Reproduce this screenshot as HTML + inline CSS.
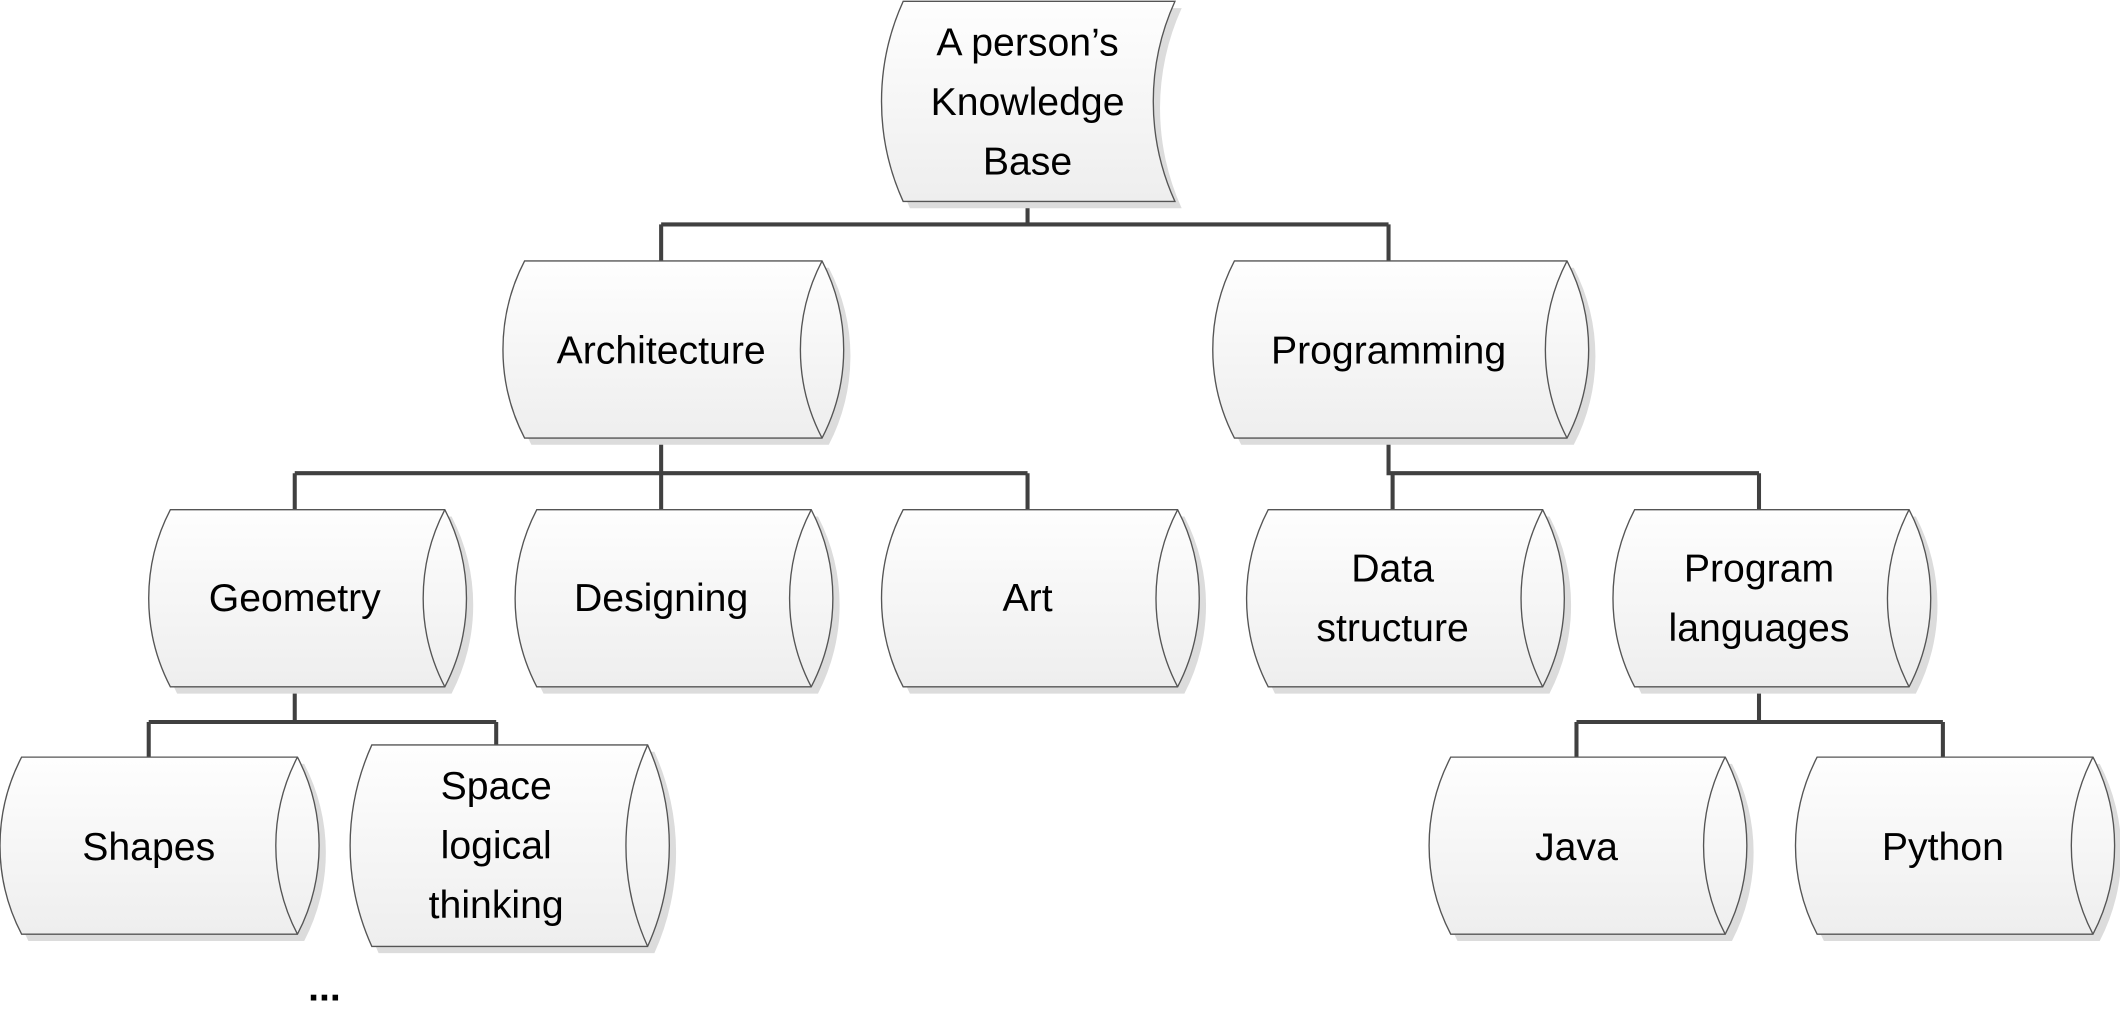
<!DOCTYPE html>
<html><head><meta charset="utf-8"><style>
html,body{margin:0;padding:0;background:#fff;}
svg{display:block;}
text{font-family:"Liberation Sans",sans-serif;font-size:29px;fill:#000;text-anchor:middle;}
</style></head><body>
<svg width="2120" height="1014" viewBox="0 0 1568 750" preserveAspectRatio="none" xmlns="http://www.w3.org/2000/svg">
<defs>
<linearGradient id="g" x1="0" y1="0" x2="0" y2="1"><stop offset="0" stop-color="#fefefe"/><stop offset="1" stop-color="#eeeeee"/></linearGradient>
</defs>
<g fill="none" stroke="#404040" stroke-width="3">
<path d="M760,150V166M489,166H1027M489,166V193M1027,166V193"/>
<path d="M489,324V350M218,350H760M218,350V377M489,350V377M760,350V377"/>
<path d="M1027,324V350H1301M1030,350V377M1301,350V377"/>
<path d="M218,508V534M110,534H367M110,534V560M367,534V551"/>
<path d="M1301,508V534M1166,534H1437M1166,534V560M1437,534V560"/>
</g>
<!-- root -->
<path d="M673,6 L874,6 A179,179 0 0 0 874,154 L673,154 A179,179 0 0 1 673,6Z" fill="#dcdcdc"/>
<path d="M668,1 L869,1 A179,179 0 0 0 869,149 L668,149 A179,179 0 0 1 668,1Z" fill="url(#g)" stroke="#555" stroke-width="1"/>
<text x="760" y="41">A person’s</text>
<text x="760" y="85">Knowledge</text>
<text x="760" y="129">Base</text>
<g stroke="#555" stroke-width="1">
<!-- Architecture -->
<path d="M393,198H613A142,142 0 0 1 613,329H393A142,142 0 0 1 393,198Z" fill="#dcdcdc" stroke="none"/>
<path d="M388,193H608A142,142 0 0 1 608,324H388A142,142 0 0 1 388,193Z" fill="url(#g)"/>
<path d="M608,193A142,142 0 0 0 608,324" fill="none"/>
<!-- Programming -->
<path d="M918,198H1164A142,142 0 0 1 1164,329H918A142,142 0 0 1 918,198Z" fill="#dcdcdc" stroke="none"/>
<path d="M913,193H1159A142,142 0 0 1 1159,324H913A142,142 0 0 1 913,193Z" fill="url(#g)"/>
<path d="M1159,193A142,142 0 0 0 1159,324" fill="none"/>
<!-- Geometry -->
<path d="M131,382H334A142,142 0 0 1 334,513H131A142,142 0 0 1 131,382Z" fill="#dcdcdc" stroke="none"/>
<path d="M126,377H329A142,142 0 0 1 329,508H126A142,142 0 0 1 126,377Z" fill="url(#g)"/>
<path d="M329,377A142,142 0 0 0 329,508" fill="none"/>
<!-- Designing -->
<path d="M402,382H605A142,142 0 0 1 605,513H402A142,142 0 0 1 402,382Z" fill="#dcdcdc" stroke="none"/>
<path d="M397,377H600A142,142 0 0 1 600,508H397A142,142 0 0 1 397,377Z" fill="url(#g)"/>
<path d="M600,377A142,142 0 0 0 600,508" fill="none"/>
<!-- Art -->
<path d="M673,382H876A142,142 0 0 1 876,513H673A142,142 0 0 1 673,382Z" fill="#dcdcdc" stroke="none"/>
<path d="M668,377H871A142,142 0 0 1 871,508H668A142,142 0 0 1 668,377Z" fill="url(#g)"/>
<path d="M871,377A142,142 0 0 0 871,508" fill="none"/>
<!-- Data -->
<path d="M943,382H1146A142,142 0 0 1 1146,513H943A142,142 0 0 1 943,382Z" fill="#dcdcdc" stroke="none"/>
<path d="M938,377H1141A142,142 0 0 1 1141,508H938A142,142 0 0 1 938,377Z" fill="url(#g)"/>
<path d="M1141,377A142,142 0 0 0 1141,508" fill="none"/>
<!-- Program languages -->
<path d="M1214,382H1417A142,142 0 0 1 1417,513H1214A142,142 0 0 1 1214,382Z" fill="#dcdcdc" stroke="none"/>
<path d="M1209,377H1412A142,142 0 0 1 1412,508H1209A142,142 0 0 1 1209,377Z" fill="url(#g)"/>
<path d="M1412,377A142,142 0 0 0 1412,508" fill="none"/>
<!-- Shapes -->
<path d="M21,565H225A142,142 0 0 1 225,696H21A142,142 0 0 1 21,565Z" fill="#dcdcdc" stroke="none"/>
<path d="M16,560H220A142,142 0 0 1 220,691H16A142,142 0 0 1 16,560Z" fill="url(#g)"/>
<path d="M220,560A142,142 0 0 0 220,691" fill="none"/>
<!-- Space -->
<path d="M280,556H484A181,181 0 0 1 484,705H280A181,181 0 0 1 280,556Z" fill="#dcdcdc" stroke="none"/>
<path d="M275,551H479A181,181 0 0 1 479,700H275A181,181 0 0 1 275,551Z" fill="url(#g)"/>
<path d="M479,551A181,181 0 0 0 479,700" fill="none"/>
<!-- Java -->
<path d="M1078,565H1281A142,142 0 0 1 1281,696H1078A142,142 0 0 1 1078,565Z" fill="#dcdcdc" stroke="none"/>
<path d="M1073,560H1276A142,142 0 0 1 1276,691H1073A142,142 0 0 1 1073,560Z" fill="url(#g)"/>
<path d="M1276,560A142,142 0 0 0 1276,691" fill="none"/>
<!-- Python -->
<path d="M1349,565H1553A142,142 0 0 1 1553,696H1349A142,142 0 0 1 1349,565Z" fill="#dcdcdc" stroke="none"/>
<path d="M1344,560H1548A142,142 0 0 1 1548,691H1344A142,142 0 0 1 1344,560Z" fill="url(#g)"/>
<path d="M1548,560A142,142 0 0 0 1548,691" fill="none"/>
</g>
<text x="489" y="269">Architecture</text>
<text x="1027" y="269">Programming</text>
<text x="218" y="452">Geometry</text>
<text x="489" y="452">Designing</text>
<text x="760" y="452">Art</text>
<text x="1030" y="430">Data</text>
<text x="1030" y="474">structure</text>
<text x="1301" y="430">Program</text>
<text x="1301" y="474">languages</text>
<text x="110" y="636">Shapes</text>
<text x="367" y="591">Space</text>
<text x="367" y="635">logical</text>
<text x="367" y="679">thinking</text>
<text x="1166" y="636">Java</text>
<text x="1437" y="636">Python</text>
<text x="240" y="740" style="font-weight:bold">...</text>
</svg>
</body></html>
